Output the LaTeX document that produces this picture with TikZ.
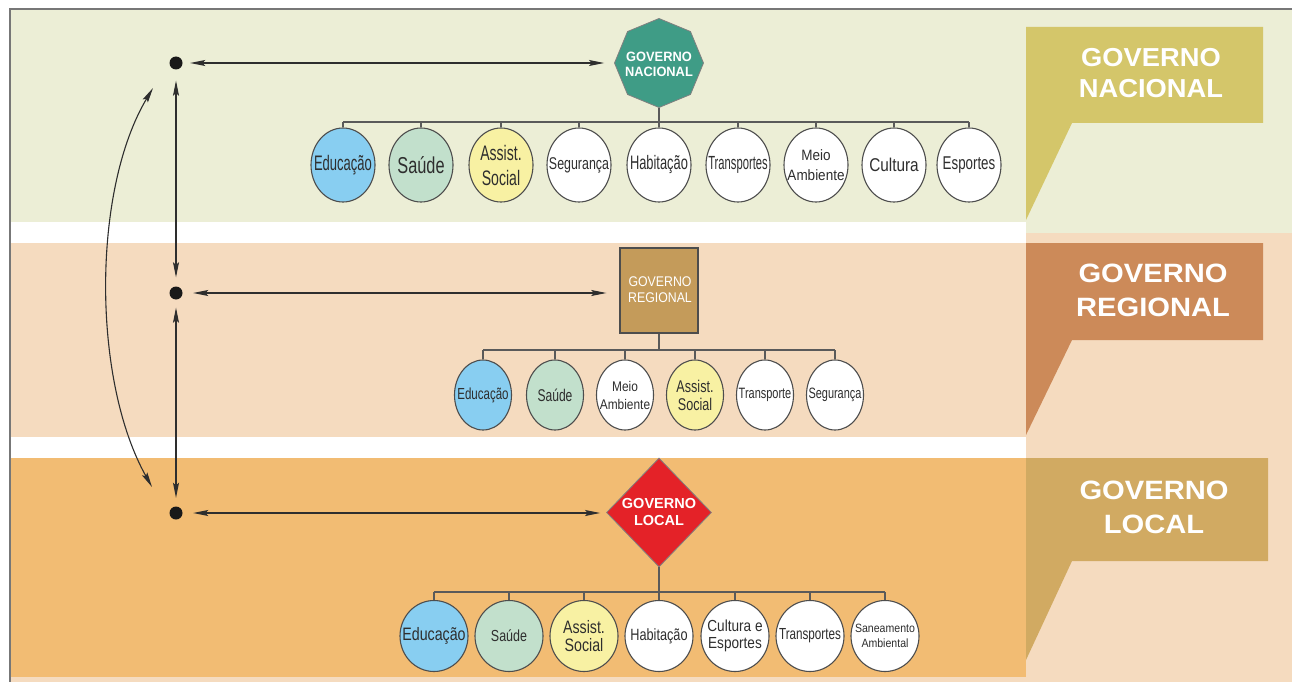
\documentclass[tikz,border=0pt]{standalone}
\usepackage{fontspec}
\setmainfont{Liberation Sans}
\usetikzlibrary{shapes.geometric,arrows.meta}

\definecolor{bandN}{HTML}{ECEED6}
\definecolor{bandR}{HTML}{F5DBBF}
\definecolor{bandL}{HTML}{F2BC73}
\definecolor{tagN}{HTML}{D4C66A}
\definecolor{tagR}{HTML}{CC8A59}
\definecolor{tagL}{HTML}{D1AA62}
\definecolor{octF}{HTML}{3F9C86}
\definecolor{boxF}{HTML}{C49B5A}
\definecolor{diaF}{HTML}{E42228}
\definecolor{fEdu}{HTML}{88CEF1}
\definecolor{fSau}{HTML}{C2E0CC}
\definecolor{fAss}{HTML}{F8F1A3}
\definecolor{ink}{HTML}{2E2E2E}
\definecolor{edgec}{HTML}{4D4D4D}
\definecolor{rulec}{HTML}{5A5A5A}
\definecolor{framec}{HTML}{777777}

% one sector: name, x, y, fill, font size, leading, stretch, text
\newcommand\sectornode[8]{%
  \node[sectorshape, fill=#4] (#1) at (#2,#3) {};
  \node[sectortext, font=\fontsize{#5}{#6}\selectfont\addfontfeature{FakeStretch=#7}] (#1-t) at (#1) {#8};}

\tikzset{
  sectorshape/.style={ellipse, draw=edgec, line width=1.1pt, inner sep=0pt},
  sectortext/.style={text=ink, align=center, inner sep=0pt},
  rule/.style={draw=rulec, line width=1.6pt},
  link/.style={draw=ink, line width=1.1pt, <->},
  dot/.style={circle, fill=black!90, inner sep=0pt, minimum size=13pt},
  tagtext/.style={text=white, align=center, inner sep=0pt},
  headtext/.style={text=white, align=center, inner sep=0pt},
  >={Stealth[length=15pt,width=6pt,inset=2.5pt]}
}

\begin{document}
\begin{tikzpicture}[x=1pt,y=-1pt]
\useasboundingbox (0,0) rectangle (1292,682);
\fill[white] (0,0) rectangle (1292,682);

% background bands
\fill[bandN] (10,9) rectangle (1292,233);
\fill[bandR] (1026,233) rectangle (1292,682);
\fill[white] (10,222) rectangle (1026,243);
\fill[bandR] (10,243) rectangle (1026,437);
\fill[white] (10,437) rectangle (1026,458);
\fill[bandL] (10,458) rectangle (1026,677);
\fill[bandR] (10,677) rectangle (1026,682);
\draw[framec, line width=1.5pt] (1292,9) -- (10,9) -- (10,682);

% level banners
\fill[tagN] (1026,27) -- (1263,27) -- (1263,123) -- (1072,123) -- (1026,220) -- cycle;
\fill[tagR] (1026,243) -- (1263,243) -- (1263,340) -- (1072,340) -- (1026,435) -- cycle;
\fill[tagL] (1026,458) -- (1268,458) -- (1268,561) -- (1072,561) -- (1026,660) -- cycle;
\node[tagtext, font=\fontsize{26}{31}\selectfont\bfseries\addfontfeature{FakeStretch=1.05}] (tN) at (1151,73.2) {GOVERNO\\NACIONAL};
\node[tagtext, font=\fontsize{26.5}{34}\selectfont\bfseries\addfontfeature{FakeStretch=1.1}] (tR) at (1153,290.5) {GOVERNO\\REGIONAL};
\node[tagtext, font=\fontsize{26.5}{34}\selectfont\bfseries\addfontfeature{FakeStretch=1.1}] (tL) at (1154,507.5) {GOVERNO\\LOCAL};

% government heads
\node[regular polygon, regular polygon sides=8, shape border rotate=22.5, minimum size=89pt, inner sep=0pt, fill=octF, draw=gray, line width=0.8pt] (gn) at (659,63) {};
\node[headtext, font=\fontsize{13.5}{15}\selectfont\bfseries\addfontfeature{FakeStretch=0.95}] (gn-t) at (659,64.7) {GOVERNO\\NACIONAL};
\node[rectangle, minimum width=78pt, minimum height=85pt, inner sep=0pt, fill=boxF, draw=edgec, line width=1.4pt] (gr) at (659,290.5) {};
\node[headtext, font=\fontsize{14}{16}\selectfont\addfontfeature{FakeStretch=0.88}] (gr-t) at (660,290) {GOVERNO\\REGIONAL};
\node[diamond, minimum width=105pt, minimum height=109pt, inner sep=0pt, fill=diaF, draw=gray, line width=0.8pt] (gl) at (659,512.5) {};
\node[headtext, font=\fontsize{14.5}{17}\selectfont\bfseries] (gl-t) at (659,512.3) {GOVERNO\\LOCAL};

% links between levels
\node[dot] (dN) at (176,63) {};
\node[dot] (dR) at (176,293) {};
\node[dot] (dL) at (176,513) {};
\draw[link, shorten <=7.5pt, shorten >=10pt] (dN) -- (dN -| gn.west);
\draw[link, shorten <=10.5pt, shorten >=13pt] (dR) -- (dR -| gr.west);
\draw[link, shorten <=10.5pt, shorten >=6pt] (dL) -- (dL -| gl.west);
\draw[link, shorten <=11pt, shorten >=9pt] (dN) -- (dR);
\draw[link, shorten <=8pt, shorten >=8.5pt] (dR) -- (dL);
\coordinate (cTop) at (153,88);
\coordinate (cBot) at (152,487);
\draw[link] (cTop) .. controls (92,190) and (92,380) .. (cBot);

% national sectors
\begin{scope}[sectorshape/.append style={minimum width=64pt, minimum height=74pt}]
\sectornode{N1}{343}{165}{fEdu}{21}{25}{0.62}{Educação}
\sectornode{N2}{421}{165}{fSau}{23}{26}{0.71}{Saúde}
\sectornode{N3}{501}{165}{fAss}{21}{25}{0.67}{Assist.\\Social}
\sectornode{N4}{579}{165}{white}{17}{20}{0.73}{Segurança}
\sectornode{N5}{659}{165}{white}{19.5}{22}{0.66}{Habitação}
\sectornode{N6}{738}{165}{white}{19}{22}{0.59}{Transportes}
\sectornode{N7}{816}{165}{white}{15}{20}{0.9}{Meio\\Ambiente}
\sectornode{N8}{894}{165}{white}{18.5}{22}{0.83}{Cultura}
\sectornode{N9}{969}{165}{white}{18.5}{22}{0.72}{Esportes}
\end{scope}
\coordinate (busN) at (0,122);
\draw[rule] (gn.south) -- (gn |- busN);
\draw[rule] (N1 |- busN) -- (N9 |- busN);
\foreach \s in {N1,N2,N3,N4,N5,N6,N7,N8,N9} \draw[rule] (\s.north) -- (\s |- busN);

% regional sectors
\begin{scope}[sectorshape/.append style={minimum width=57pt, minimum height=70pt}]
\sectornode{R1}{483}{395}{fEdu}{16}{19}{0.72}{Educação}
\sectornode{R2}{555}{395}{fSau}{17}{19}{0.71}{Saúde}
\sectornode{R3}{625}{395}{white}{14}{18}{0.85}{Meio\\Ambiente}
\sectornode{R4}{695}{395}{fAss}{17}{18}{0.74}{Assist.\\Social}
\sectornode{R5}{765}{395}{white}{15}{18}{0.73}{Transporte}
\sectornode{R6}{835}{395}{white}{15}{18}{0.73}{Segurança}
\end{scope}
\coordinate (busR) at (0,350);
\draw[rule] (gr.south) -- (gr |- busR);
\draw[rule] (R1 |- busR) -- (R6 |- busR);
\foreach \s in {R1,R2,R3,R4,R5,R6} \draw[rule] (\s.north) -- (\s |- busR);

% local sectors
\begin{scope}[sectorshape/.append style={minimum width=68pt, minimum height=71pt}]
\sectornode{L1}{434}{636}{fEdu}{18}{20}{0.79}{Educação}
\sectornode{L2}{509}{636}{fSau}{16}{19}{0.78}{Saúde}
\sectornode{L3}{584}{636}{fAss}{18}{18}{0.79}{Assist.\\Social}
\sectornode{L4}{659}{636}{white}{16.3}{19}{0.78}{Habitação}
\sectornode{L5}{735}{636}{white}{16}{16.5}{0.85}{Cultura e\\Esportes}
\sectornode{L6}{810}{636}{white}{16}{19}{0.73}{Transportes}
\sectornode{L7}{885}{636}{white}{12}{15}{0.88}{Saneamento\\Ambiental}
\end{scope}
\coordinate (busL) at (0,592);
\draw[rule] (gl.south) -- (gl |- busL);
\draw[rule] (L1 |- busL) -- (L7 |- busL);
\foreach \s in {L1,L2,L3,L4,L5,L6,L7} \draw[rule] (\s.north) -- (\s |- busL);
\end{tikzpicture}
\end{document}
